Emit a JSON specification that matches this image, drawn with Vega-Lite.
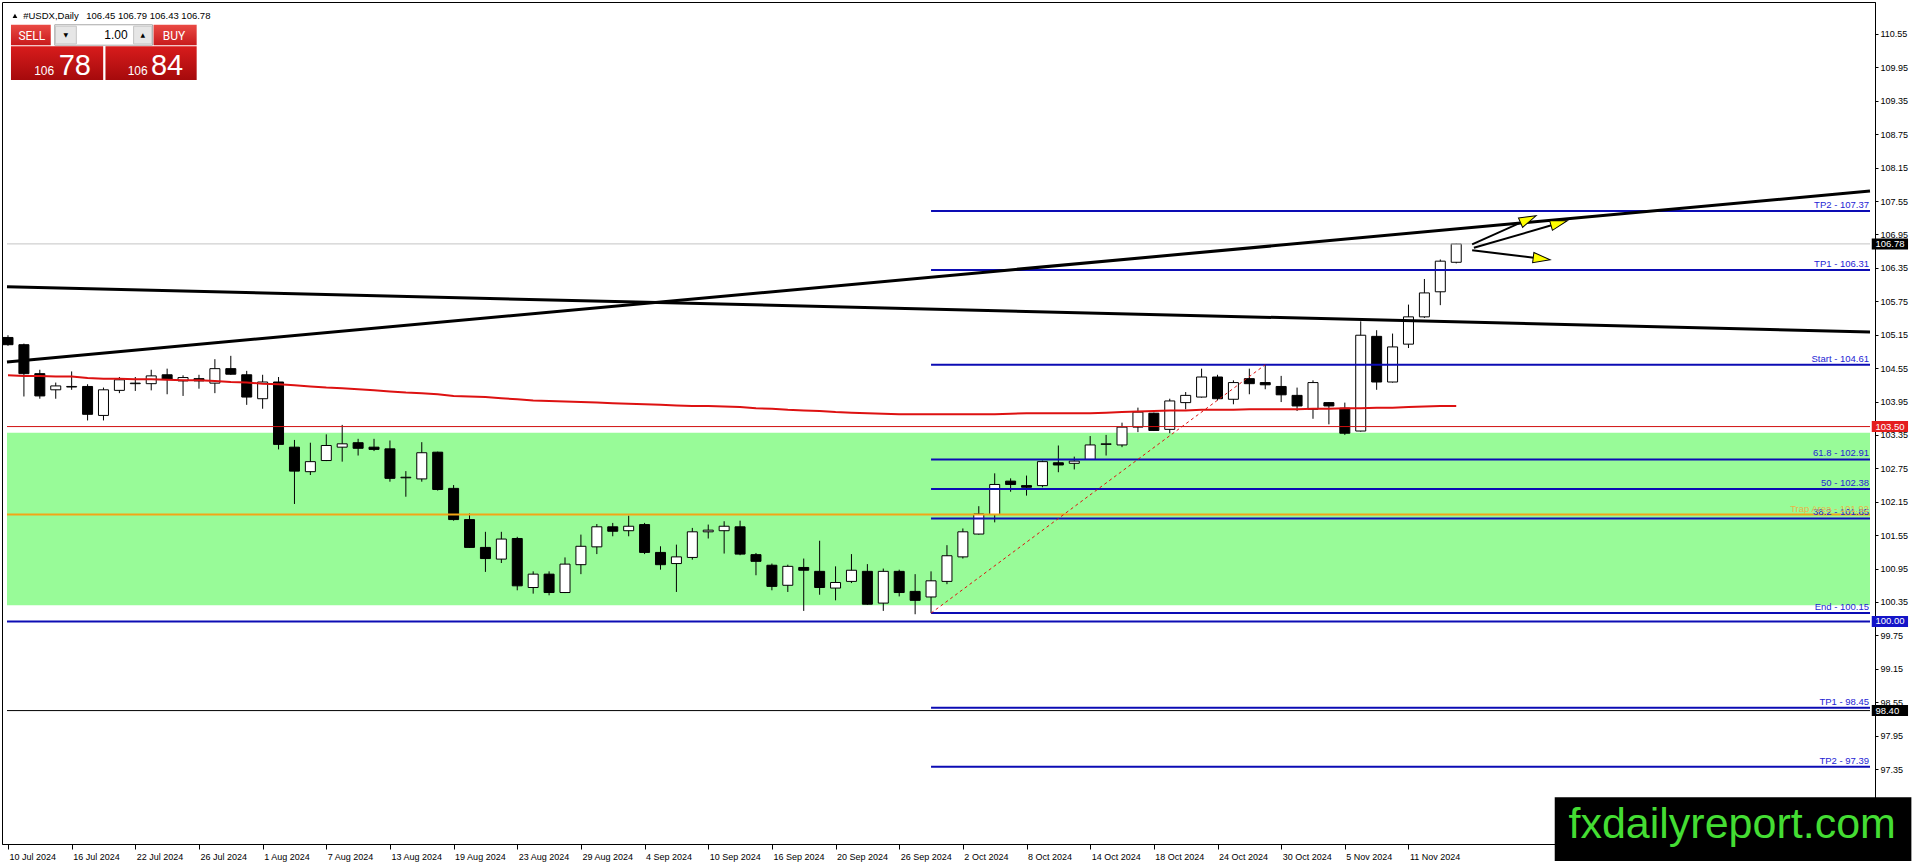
{
  "$schema": "https://vega.github.io/schema/vega-lite/v6.json",
  "width": 1873,
  "height": 842,
  "autosize": {"type": "none"},
  "padding": {"left": 2, "top": 2, "right": 41, "bottom": 21},
  "background": "white",
  "config": {
    "view": {"stroke": "black", "strokeWidth": 1},
    "mark": {"font": "Liberation Sans"},
    "axis": {"labelFont": "Liberation Sans", "labelFontSize": 9, "labelColor": "black", "domainColor": "black", "tickColor": "black", "grid": false}
  },
  "resolve": {"scale": {"stroke": "independent", "fill": "independent", "color": "independent"}},
  "datasets": {
    "candles": [
      {"i":0,"d":"10 Jul 2024","o":105.10,"h":105.14,"l":104.95,"c":104.97,"ma":104.42},
      {"i":1,"d":"11 Jul 2024","o":104.97,"h":104.99,"l":104.04,"c":104.45,"ma":104.41},
      {"i":2,"d":"12 Jul 2024","o":104.45,"h":104.52,"l":104.00,"c":104.05,"ma":104.41},
      {"i":3,"d":"15 Jul 2024","o":104.16,"h":104.29,"l":104.00,"c":104.23,"ma":104.40},
      {"i":4,"d":"16 Jul 2024","o":104.21,"h":104.49,"l":104.16,"c":104.22,"ma":104.40},
      {"i":5,"d":"17 Jul 2024","o":104.22,"h":104.26,"l":103.61,"c":103.72,"ma":104.37},
      {"i":6,"d":"18 Jul 2024","o":103.70,"h":104.20,"l":103.61,"c":104.16,"ma":104.36},
      {"i":7,"d":"19 Jul 2024","o":104.15,"h":104.39,"l":104.10,"c":104.34,"ma":104.36},
      {"i":8,"d":"22 Jul 2024","o":104.27,"h":104.39,"l":104.14,"c":104.28,"ma":104.35},
      {"i":9,"d":"23 Jul 2024","o":104.27,"h":104.52,"l":104.15,"c":104.41,"ma":104.35},
      {"i":10,"d":"24 Jul 2024","o":104.43,"h":104.54,"l":104.08,"c":104.35,"ma":104.34},
      {"i":11,"d":"25 Jul 2024","o":104.32,"h":104.42,"l":104.05,"c":104.38,"ma":104.33},
      {"i":12,"d":"26 Jul 2024","o":104.36,"h":104.43,"l":104.18,"c":104.32,"ma":104.33},
      {"i":13,"d":"29 Jul 2024","o":104.28,"h":104.71,"l":104.10,"c":104.54,"ma":104.32},
      {"i":14,"d":"30 Jul 2024","o":104.54,"h":104.77,"l":104.43,"c":104.44,"ma":104.30},
      {"i":15,"d":"31 Jul 2024","o":104.43,"h":104.50,"l":103.89,"c":104.03,"ma":104.29},
      {"i":16,"d":"1 Aug 2024","o":104.00,"h":104.43,"l":103.82,"c":104.30,"ma":104.27},
      {"i":17,"d":"2 Aug 2024","o":104.30,"h":104.39,"l":103.09,"c":103.18,"ma":104.26},
      {"i":18,"d":"5 Aug 2024","o":103.13,"h":103.26,"l":102.11,"c":102.70,"ma":104.24},
      {"i":19,"d":"6 Aug 2024","o":102.69,"h":103.21,"l":102.63,"c":102.87,"ma":104.22},
      {"i":20,"d":"7 Aug 2024","o":102.89,"h":103.36,"l":102.88,"c":103.16,"ma":104.20},
      {"i":21,"d":"8 Aug 2024","o":103.13,"h":103.53,"l":102.87,"c":103.19,"ma":104.19},
      {"i":22,"d":"9 Aug 2024","o":103.21,"h":103.28,"l":102.98,"c":103.11,"ma":104.17},
      {"i":23,"d":"12 Aug 2024","o":103.13,"h":103.28,"l":103.06,"c":103.09,"ma":104.15},
      {"i":24,"d":"13 Aug 2024","o":103.10,"h":103.25,"l":102.51,"c":102.57,"ma":104.13},
      {"i":25,"d":"14 Aug 2024","o":102.58,"h":102.70,"l":102.24,"c":102.59,"ma":104.11},
      {"i":26,"d":"15 Aug 2024","o":102.56,"h":103.22,"l":102.51,"c":103.03,"ma":104.10},
      {"i":27,"d":"16 Aug 2024","o":103.04,"h":103.05,"l":102.35,"c":102.37,"ma":104.08},
      {"i":28,"d":"19 Aug 2024","o":102.39,"h":102.45,"l":101.81,"c":101.83,"ma":104.05},
      {"i":29,"d":"20 Aug 2024","o":101.83,"h":101.94,"l":101.32,"c":101.33,"ma":104.04},
      {"i":30,"d":"21 Aug 2024","o":101.33,"h":101.61,"l":100.89,"c":101.13,"ma":104.03},
      {"i":31,"d":"22 Aug 2024","o":101.12,"h":101.61,"l":101.05,"c":101.48,"ma":104.01},
      {"i":32,"d":"23 Aug 2024","o":101.49,"h":101.52,"l":100.56,"c":100.64,"ma":103.99},
      {"i":33,"d":"26 Aug 2024","o":100.61,"h":100.90,"l":100.50,"c":100.85,"ma":103.97},
      {"i":34,"d":"27 Aug 2024","o":100.85,"h":100.90,"l":100.47,"c":100.52,"ma":103.96},
      {"i":35,"d":"28 Aug 2024","o":100.52,"h":101.15,"l":100.51,"c":101.03,"ma":103.95},
      {"i":36,"d":"29 Aug 2024","o":101.02,"h":101.56,"l":100.85,"c":101.35,"ma":103.94},
      {"i":37,"d":"30 Aug 2024","o":101.34,"h":101.75,"l":101.21,"c":101.70,"ma":103.93},
      {"i":38,"d":"2 Sep 2024","o":101.70,"h":101.77,"l":101.53,"c":101.62,"ma":103.92},
      {"i":39,"d":"3 Sep 2024","o":101.63,"h":101.90,"l":101.53,"c":101.71,"ma":103.91},
      {"i":40,"d":"4 Sep 2024","o":101.74,"h":101.77,"l":101.21,"c":101.24,"ma":103.90},
      {"i":41,"d":"5 Sep 2024","o":101.24,"h":101.35,"l":100.93,"c":101.02,"ma":103.89},
      {"i":42,"d":"6 Sep 2024","o":101.04,"h":101.38,"l":100.53,"c":101.16,"ma":103.88},
      {"i":43,"d":"9 Sep 2024","o":101.15,"h":101.68,"l":101.11,"c":101.61,"ma":103.87},
      {"i":44,"d":"10 Sep 2024","o":101.61,"h":101.74,"l":101.49,"c":101.64,"ma":103.87},
      {"i":45,"d":"11 Sep 2024","o":101.63,"h":101.80,"l":101.22,"c":101.71,"ma":103.86},
      {"i":46,"d":"12 Sep 2024","o":101.70,"h":101.81,"l":101.19,"c":101.21,"ma":103.85},
      {"i":47,"d":"13 Sep 2024","o":101.20,"h":101.23,"l":100.83,"c":101.08,"ma":103.83},
      {"i":48,"d":"16 Sep 2024","o":101.01,"h":101.04,"l":100.56,"c":100.63,"ma":103.82},
      {"i":49,"d":"17 Sep 2024","o":100.65,"h":101.02,"l":100.53,"c":100.99,"ma":103.80},
      {"i":50,"d":"18 Sep 2024","o":100.97,"h":101.13,"l":100.19,"c":100.92,"ma":103.79},
      {"i":51,"d":"19 Sep 2024","o":100.90,"h":101.45,"l":100.48,"c":100.61,"ma":103.78},
      {"i":52,"d":"20 Sep 2024","o":100.60,"h":100.99,"l":100.38,"c":100.70,"ma":103.76},
      {"i":53,"d":"23 Sep 2024","o":100.72,"h":101.21,"l":100.69,"c":100.92,"ma":103.75},
      {"i":54,"d":"24 Sep 2024","o":100.90,"h":101.03,"l":100.30,"c":100.31,"ma":103.74},
      {"i":55,"d":"25 Sep 2024","o":100.33,"h":100.95,"l":100.19,"c":100.90,"ma":103.73},
      {"i":56,"d":"26 Sep 2024","o":100.90,"h":100.93,"l":100.45,"c":100.52,"ma":103.72},
      {"i":57,"d":"27 Sep 2024","o":100.54,"h":100.85,"l":100.13,"c":100.38,"ma":103.72},
      {"i":58,"d":"30 Sep 2024","o":100.44,"h":100.90,"l":100.15,"c":100.73,"ma":103.72},
      {"i":59,"d":"1 Oct 2024","o":100.72,"h":101.37,"l":100.67,"c":101.18,"ma":103.72},
      {"i":60,"d":"2 Oct 2024","o":101.16,"h":101.67,"l":101.13,"c":101.61,"ma":103.72},
      {"i":61,"d":"3 Oct 2024","o":101.57,"h":102.07,"l":101.56,"c":101.93,"ma":103.72},
      {"i":62,"d":"4 Oct 2024","o":101.92,"h":102.66,"l":101.78,"c":102.46,"ma":103.72},
      {"i":63,"d":"7 Oct 2024","o":102.52,"h":102.57,"l":102.33,"c":102.46,"ma":103.73},
      {"i":64,"d":"8 Oct 2024","o":102.44,"h":102.62,"l":102.26,"c":102.41,"ma":103.74},
      {"i":65,"d":"9 Oct 2024","o":102.44,"h":102.89,"l":102.41,"c":102.87,"ma":103.74},
      {"i":66,"d":"10 Oct 2024","o":102.85,"h":103.16,"l":102.68,"c":102.81,"ma":103.74},
      {"i":67,"d":"11 Oct 2024","o":102.84,"h":102.96,"l":102.73,"c":102.88,"ma":103.74},
      {"i":68,"d":"14 Oct 2024","o":102.91,"h":103.33,"l":102.90,"c":103.17,"ma":103.74},
      {"i":69,"d":"15 Oct 2024","o":103.18,"h":103.35,"l":102.98,"c":103.19,"ma":103.75},
      {"i":70,"d":"16 Oct 2024","o":103.17,"h":103.57,"l":103.13,"c":103.49,"ma":103.76},
      {"i":71,"d":"17 Oct 2024","o":103.49,"h":103.84,"l":103.40,"c":103.76,"ma":103.77},
      {"i":72,"d":"18 Oct 2024","o":103.74,"h":103.75,"l":103.42,"c":103.43,"ma":103.78},
      {"i":73,"d":"21 Oct 2024","o":103.45,"h":104.00,"l":103.38,"c":103.96,"ma":103.79},
      {"i":74,"d":"22 Oct 2024","o":103.93,"h":104.12,"l":103.81,"c":104.06,"ma":103.79},
      {"i":75,"d":"23 Oct 2024","o":104.03,"h":104.54,"l":104.02,"c":104.39,"ma":103.80},
      {"i":76,"d":"24 Oct 2024","o":104.39,"h":104.43,"l":103.97,"c":104.00,"ma":103.80},
      {"i":77,"d":"25 Oct 2024","o":103.99,"h":104.33,"l":103.90,"c":104.29,"ma":103.80},
      {"i":78,"d":"28 Oct 2024","o":104.36,"h":104.54,"l":104.08,"c":104.27,"ma":103.81},
      {"i":79,"d":"29 Oct 2024","o":104.29,"h":104.61,"l":104.17,"c":104.25,"ma":103.81},
      {"i":80,"d":"30 Oct 2024","o":104.22,"h":104.41,"l":103.94,"c":104.07,"ma":103.81},
      {"i":81,"d":"31 Oct 2024","o":104.06,"h":104.20,"l":103.78,"c":103.87,"ma":103.81},
      {"i":82,"d":"1 Nov 2024","o":103.81,"h":104.33,"l":103.64,"c":104.29,"ma":103.82},
      {"i":83,"d":"4 Nov 2024","o":103.93,"h":103.94,"l":103.54,"c":103.87,"ma":103.82},
      {"i":84,"d":"5 Nov 2024","o":103.83,"h":103.93,"l":103.35,"c":103.38,"ma":103.83},
      {"i":85,"d":"6 Nov 2024","o":103.42,"h":105.39,"l":103.41,"c":105.14,"ma":103.83},
      {"i":86,"d":"7 Nov 2024","o":105.12,"h":105.23,"l":104.16,"c":104.30,"ma":103.84},
      {"i":87,"d":"8 Nov 2024","o":104.30,"h":105.17,"l":104.29,"c":104.93,"ma":103.84},
      {"i":88,"d":"11 Nov 2024","o":104.98,"h":105.69,"l":104.91,"c":105.47,"ma":103.85},
      {"i":89,"d":"12 Nov 2024","o":105.47,"h":106.15,"l":105.45,"c":105.90,"ma":103.86},
      {"i":90,"d":"13 Nov 2024","o":105.92,"h":106.50,"l":105.68,"c":106.47,"ma":103.87},
      {"i":91,"d":"14 Nov 2024","o":106.45,"h":106.79,"l":106.43,"c":106.78,"ma":103.87}
    ],
    "fib": [
      {"level":107.37,"label":"TP2 - 107.37"},
      {"level":106.31,"label":"TP1 - 106.31"},
      {"level":104.61,"label":"Start - 104.61"},
      {"level":102.91,"label":"61.8 - 102.91"},
      {"level":102.38,"label":"50 - 102.38"},
      {"level":101.85,"label":"38.2 - 101.85"},
      {"level":100.15,"label":"End - 100.15"},
      {"level":98.45,"label":"TP1 - 98.45"},
      {"level":97.39,"label":"TP2 - 97.39"}
    ],
    "trend": [
      {"n":"down","i":-0.0625,"p":106.01},
      {"n":"down","i":117,"p":105.20},
      {"n":"up","i":-0.0625,"p":104.66},
      {"n":"up","i":117,"p":107.73}
    ],
    "arrows": [
      {"a":"a","i":92.0,"p":106.771},
      {"a":"a","i":95.53,"p":107.223},
      {"a":"b","i":92.11,"p":106.71},
      {"a":"b","i":97.47,"p":107.154},
      {"a":"c","i":92.0,"p":106.664},
      {"a":"c","i":96.37,"p":106.515}
    ],
    "heads": [
      {"a":"a","i":95.53,"p":107.223},
      {"a":"b","i":97.47,"p":107.154},
      {"a":"c","i":96.37,"p":106.515}
    ],
    "boxes": [
      {"p":106.78,"t":"106.78","n":"cur"},
      {"p":103.5,"t":"103.50","n":"red"},
      {"p":100.0,"t":"100.00","n":"blue"},
      {"p":98.4,"t":"98.40","n":"blk"}
    ]
  },
  "layer": [
    {
      "data": {"name": "candles"},
      "mark": {"type": "rule", "color": "black", "strokeWidth": 1, "clip": true, "opacity": 0},
      "encoding": {
        "x": {
          "field": "i", "type": "quantitative",
          "scale": {"domain": [-0.0625, 117], "nice": false, "zero": false},
          "axis": {
            "orient": "bottom", "title": null, "tickCount": 60,
            "values": [0,4,8,12,16,20,24,28,32,36,40,44,48,52,56,60,64,68,72,76,80,84,88],
            "labelExpr": "['10 Jul 2024','16 Jul 2024','22 Jul 2024','26 Jul 2024','1 Aug 2024','7 Aug 2024','13 Aug 2024','19 Aug 2024','23 Aug 2024','29 Aug 2024','4 Sep 2024','10 Sep 2024','16 Sep 2024','20 Sep 2024','26 Sep 2024','2 Oct 2024','8 Oct 2024','14 Oct 2024','18 Oct 2024','24 Oct 2024','30 Oct 2024','5 Nov 2024','11 Nov 2024'][round(datum.value/4)]",
            "labelAlign": "left", "labelBaseline": "top", "labelOffset": 1,
            "labelPadding": 3, "tickSize": 5, "labelFlush": false,
            "labelOverlap": false, "labelBound": false
          }
        },
        "y": {
          "field": "l", "type": "quantitative",
          "scale": {"domain": [96.094, 111.034], "nice": false, "zero": false},
          "axis": {
            "orient": "right", "title": null, "tickCount": 40,
            "values": [110.55,109.95,109.35,108.75,108.15,107.55,106.95,106.35,105.75,105.15,104.55,103.95,103.35,102.75,102.15,101.55,100.95,100.35,99.75,99.15,98.55,97.95,97.35],
            "format": ".2f", "tickSize": 3, "labelPadding": 2,
            "labelBaseline": "middle", "labelFlush": false, "labelOverlap": false
          }
        },
        "y2": {"field": "h"}
      }
    },
    {
      "data": {"values": [{"lo": 100.29, "hi": 103.39}]},
      "mark": {"type": "rect", "fill": "#98fb98"},
      "encoding": {
        "x": {"datum": -0.0625, "type": "quantitative"},
        "x2": {"datum": 117},
        "y": {"field": "lo", "type": "quantitative"},
        "y2": {"field": "hi"}
      }
    },
    {
      "data": {"name": "candles"},
      "mark": {"type": "rule", "color": "black", "strokeWidth": 1, "clip": true},
      "encoding": {
        "x": {"field": "i", "type": "quantitative"},
        "y": {"field": "l", "type": "quantitative"},
        "y2": {"field": "h"}
      }
    },
    {
      "data": {"name": "candles"},
      "mark": {"type": "bar", "size": 10, "stroke": "black", "strokeWidth": 1, "clip": true},
      "encoding": {
        "x": {"field": "i", "type": "quantitative"},
        "y": {"field": "o", "type": "quantitative"},
        "y2": {"field": "c"},
        "fill": {"condition": {"test": "datum.c >= datum.o", "value": "white"}, "value": "black"},
        "tooltip": [
          {"field": "d", "title": "Date"},
          {"field": "o", "title": "Open"},
          {"field": "h", "title": "High"},
          {"field": "l", "title": "Low"},
          {"field": "c", "title": "Close"}
        ]
      }
    },
    {
      "data": {"values": [{"p": 106.78, "n": "cur"}, {"p": 103.5, "n": "red"}, {"p": 98.4, "n": "blk"}]},
      "mark": {"type": "rule", "strokeWidth": 1},
      "encoding": {
        "x": {"datum": -0.0625, "type": "quantitative"},
        "x2": {"datum": 117},
        "y": {"field": "p", "type": "quantitative"},
        "stroke": {"field": "n", "type": "nominal", "scale": {"domain": ["cur", "red", "blk"], "range": ["#c4c4c4", "#d01010", "#000000"]}, "legend": null}
      }
    },
    {
      "data": {"values": [{"p": 100.0, "n": "hundred"}, {"p": 101.92, "n": "trap"}]},
      "mark": {"type": "rule", "strokeWidth": 2},
      "encoding": {
        "x": {"datum": -0.0625, "type": "quantitative"},
        "x2": {"datum": 117},
        "y": {"field": "p", "type": "quantitative"},
        "color": {"field": "n", "type": "nominal", "scale": {"domain": ["hundred", "trap"], "range": ["#0c0cb4", "#f2a516"]}, "legend": null}
      }
    },
    {
      "data": {"name": "fib"},
      "mark": {"type": "rule", "strokeWidth": 2, "color": "#0c0cb4"},
      "encoding": {
        "x": {"datum": 58, "type": "quantitative"},
        "x2": {"datum": 117},
        "y": {"field": "level", "type": "quantitative"}
      }
    },
    {
      "data": {"name": "fib"},
      "mark": {"type": "text", "align": "right", "baseline": "alphabetic", "dy": -3, "fontSize": 9.5, "color": "#2424d4"},
      "encoding": {
        "x": {"datum": 116.94, "type": "quantitative"},
        "y": {"field": "level", "type": "quantitative"},
        "text": {"field": "label"}
      }
    },
    {
      "data": {"values": [{"p": 101.92, "t": "Trap Area - 101.92"}]},
      "mark": {"type": "text", "align": "right", "baseline": "alphabetic", "dy": -3, "fontSize": 9.5, "color": "#e8b448"},
      "encoding": {
        "x": {"datum": 116.94, "type": "quantitative"},
        "y": {"field": "p", "type": "quantitative"},
        "text": {"field": "t"}
      }
    },
    {
      "data": {"name": "candles"},
      "mark": {"type": "line", "color": "#dd1111", "strokeWidth": 2},
      "encoding": {
        "x": {"field": "i", "type": "quantitative"},
        "y": {"field": "ma", "type": "quantitative"}
      }
    },
    {
      "data": {"name": "trend"},
      "mark": {"type": "line", "color": "black", "strokeWidth": 3},
      "encoding": {
        "x": {"field": "i", "type": "quantitative"},
        "y": {"field": "p", "type": "quantitative"},
        "detail": {"field": "n"}
      }
    },
    {
      "data": {"values": [{"i": 58, "p": 100.15}, {"i": 79, "p": 104.61}]},
      "mark": {"type": "line", "color": "#dd1111", "strokeWidth": 1, "strokeDash": [3, 3]},
      "encoding": {
        "x": {"field": "i", "type": "quantitative"},
        "y": {"field": "p", "type": "quantitative"}
      }
    },
    {
      "data": {"name": "arrows"},
      "mark": {"type": "line", "color": "black", "strokeWidth": 2},
      "encoding": {
        "x": {"field": "i", "type": "quantitative"},
        "y": {"field": "p", "type": "quantitative"},
        "detail": {"field": "a"}
      }
    },
    {
      "data": {"name": "heads"},
      "mark": {"type": "point", "shape": "M-1,-0.6L1,0L-1,0.6Z", "filled": true, "fill": "#ffff00", "stroke": "#000000", "strokeWidth": 1, "opacity": 1, "size": 289},
      "encoding": {
        "x": {"field": "i", "type": "quantitative"},
        "y": {"field": "p", "type": "quantitative"},
        "angle": {"condition": [{"test": "datum.a == 'a'", "value": 336}, {"test": "datum.a == 'b'", "value": 344}], "value": 7}
      }
    },
    {
      "data": {"name": "boxes"},
      "mark": {"type": "bar", "size": 11},
      "encoding": {
        "x": {"datum": 117.11, "type": "quantitative"},
        "x2": {"datum": 119.39},
        "y": {"field": "p", "type": "quantitative"},
        "fill": {"field": "n", "type": "nominal", "scale": {"domain": ["cur", "red", "blue", "blk"], "range": ["#000000", "#e41e1e", "#1414c8", "#000000"]}, "legend": null}
      }
    },
    {
      "data": {"name": "boxes"},
      "mark": {"type": "text", "align": "left", "baseline": "middle", "fontSize": 9.5, "color": "white"},
      "encoding": {
        "x": {"datum": 117.34, "type": "quantitative"},
        "y": {"field": "p", "type": "quantitative"},
        "text": {"field": "t"}
      }
    },
    {
      "data": {"values": [{"x": 0.4375, "p": 110.875}]},
      "mark": {"type": "point", "shape": "triangle-up", "filled": true, "color": "black", "opacity": 1, "size": 22},
      "encoding": {
        "x": {"field": "x", "type": "quantitative"},
        "y": {"field": "p", "type": "quantitative"}
      }
    },
    {
      "data": {"values": [{"x": 0.956, "p": 110.821, "t": "#USDX,Daily"}, {"x": 4.919, "p": 110.821, "t": "106.45 106.79 106.43 106.78"}]},
      "mark": {"type": "text", "align": "left", "baseline": "alphabetic", "fontSize": 9.5, "color": "black"},
      "encoding": {
        "x": {"field": "x", "type": "quantitative"},
        "y": {"field": "p", "type": "quantitative"},
        "text": {"field": "t"}
      }
    },
    {
      "data": {"values": [{"x": 0.1875, "x2": 2.6875, "p": 110.715, "p2": 110.348}, {"x": 9.144, "x2": 11.856, "p": 110.715, "p2": 110.348}]},
      "mark": {"type": "rect", "fill": {"gradient": "linear", "x1": 0, "y1": 0, "x2": 0, "y2": 1, "stops": [{"offset": 0, "color": "#ea4a44"}, {"offset": 1, "color": "#c81a1c"}]}},
      "encoding": {
        "x": {"field": "x", "type": "quantitative"},
        "x2": {"field": "x2"},
        "y": {"field": "p", "type": "quantitative"},
        "y2": {"field": "p2"}
      }
    },
    {
      "data": {"values": [{"x": 0.1875, "x2": 5.981, "p": 110.33, "p2": 109.721}, {"x": 6.125, "x2": 11.856, "p": 110.33, "p2": 109.721}]},
      "mark": {"type": "rect", "fill": {"gradient": "linear", "x1": 0, "y1": 0, "x2": 0, "y2": 1, "stops": [{"offset": 0, "color": "#d81c1c"}, {"offset": 1, "color": "#a50a0c"}]}},
      "encoding": {
        "x": {"field": "x", "type": "quantitative"},
        "x2": {"field": "x2"},
        "y": {"field": "p", "type": "quantitative"},
        "y2": {"field": "p2"}
      }
    },
    {
      "data": {"values": [{"x": 2.9375, "x2": 9.081, "p": 110.715, "p2": 110.348}]},
      "mark": {"type": "rect", "fill": "white", "stroke": "#a8a8a8", "strokeWidth": 1},
      "encoding": {
        "x": {"field": "x", "type": "quantitative"},
        "x2": {"field": "x2"},
        "y": {"field": "p", "type": "quantitative"},
        "y2": {"field": "p2"}
      }
    },
    {
      "data": {"values": [{"x": 2.98, "x2": 4.294, "p": 110.69, "p2": 110.37}, {"x": 7.894, "x2": 9.04, "p": 110.69, "p2": 110.37}]},
      "mark": {"type": "rect", "fill": "#e6e6e6", "stroke": "#c4c4c4", "strokeWidth": 1},
      "encoding": {
        "x": {"field": "x", "type": "quantitative"},
        "x2": {"field": "x2"},
        "y": {"field": "p", "type": "quantitative"},
        "y2": {"field": "p2"}
      }
    },
    {
      "data": {"values": [{"x": 3.64, "p": 110.53, "t": "▼"}, {"x": 8.47, "p": 110.53, "t": "▲"}]},
      "mark": {"type": "text", "align": "center", "baseline": "middle", "font": "DejaVu Sans", "fontSize": 6, "color": "black"},
      "encoding": {
        "x": {"field": "x", "type": "quantitative"},
        "y": {"field": "p", "type": "quantitative"},
        "text": {"field": "t"}
      }
    },
    {
      "data": {"values": [{"x": 7.52, "p": 110.525, "t": "1.00"}]},
      "mark": {"type": "text", "align": "right", "baseline": "middle", "fontSize": 12, "color": "black"},
      "encoding": {
        "x": {"field": "x", "type": "quantitative"},
        "y": {"field": "p", "type": "quantitative"},
        "text": {"field": "t"}
      }
    },
    {
      "data": {"values": [{"x": 1.5, "p": 110.52, "t": "SELL"}, {"x": 10.43, "p": 110.52, "t": "BUY"}]},
      "mark": {"type": "text", "align": "center", "baseline": "middle", "font": "Roboto", "fontSize": 12, "color": "white"},
      "encoding": {
        "x": {"field": "x", "type": "quantitative"},
        "y": {"field": "p", "type": "quantitative"},
        "text": {"field": "t"}
      }
    },
    {
      "data": {"values": [{"x": 1.644, "p": 109.815, "t": "106"}, {"x": 7.519, "p": 109.815, "t": "106"}]},
      "mark": {"type": "text", "align": "left", "baseline": "alphabetic", "fontSize": 12, "color": "white"},
      "encoding": {
        "x": {"field": "x", "type": "quantitative"},
        "y": {"field": "p", "type": "quantitative"},
        "text": {"field": "t"}
      }
    },
    {
      "data": {"values": [{"x": 3.1875, "p": 109.815, "t": "78"}, {"x": 8.98, "p": 109.815, "t": "84"}]},
      "mark": {"type": "text", "align": "left", "baseline": "alphabetic", "fontSize": 29, "color": "white"},
      "encoding": {
        "x": {"field": "x", "type": "quantitative"},
        "y": {"field": "p", "type": "quantitative"},
        "text": {"field": "t"}
      }
    },
    {
      "data": {"values": [{"x": 97.19, "x2": 119.6, "p": 96.845, "p2": 95.7}]},
      "mark": {"type": "rect", "fill": "black"},
      "encoding": {
        "x": {"field": "x", "type": "quantitative"},
        "x2": {"field": "x2"},
        "y": {"field": "p", "type": "quantitative"},
        "y2": {"field": "p2"}
      }
    },
    {
      "data": {"values": [{"x": 108.34, "p": 96.107, "t": "fxdailyreport.com"}]},
      "mark": {"type": "text", "align": "center", "baseline": "alphabetic", "fontSize": 43, "color": "#44dd33"},
      "encoding": {
        "x": {"field": "x", "type": "quantitative"},
        "y": {"field": "p", "type": "quantitative"},
        "text": {"field": "t"}
      }
    }
  ]
}
